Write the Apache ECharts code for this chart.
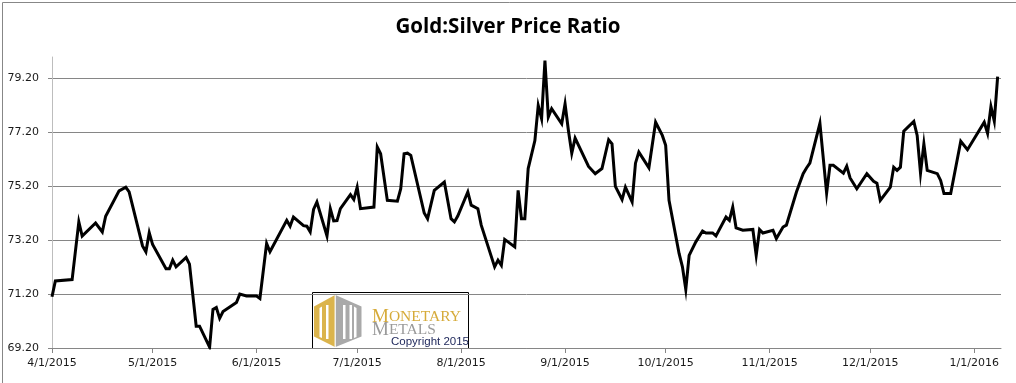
<!DOCTYPE html>
<html>
<head>
<meta charset="utf-8">
<script src="https://cdn.jsdelivr.net/npm/echarts@6/dist/echarts.min.js"></script>
<style>
html,body{margin:0;padding:0;background:#fff;}
#chart{width:1016px;height:383px;}
</style>
</head>
<body>
<div id="chart"></div>
<script>
// ---- data ----
const dates = [
 '2015-04-01','2015-04-02','2015-04-07','2015-04-09','2015-04-10','2015-04-14','2015-04-16','2015-04-17','2015-04-21','2015-04-23','2015-04-24','2015-04-28','2015-04-29','2015-04-30',
 '2015-05-01','2015-05-05','2015-05-06','2015-05-07','2015-05-08','2015-05-11','2015-05-12','2015-05-14','2015-05-15','2015-05-18','2015-05-19','2015-05-20','2015-05-21','2015-05-22','2015-05-26','2015-05-27','2015-05-29',
 '2015-06-01','2015-06-02','2015-06-04','2015-06-05','2015-06-10','2015-06-11','2015-06-12','2015-06-15','2015-06-16','2015-06-17','2015-06-18','2015-06-19','2015-06-22','2015-06-23','2015-06-24','2015-06-25','2015-06-26','2015-06-29','2015-06-30',
 '2015-07-01','2015-07-02','2015-07-06','2015-07-07','2015-07-08','2015-07-10','2015-07-13','2015-07-14','2015-07-15','2015-07-16','2015-07-17','2015-07-21','2015-07-22','2015-07-24','2015-07-27','2015-07-29','2015-07-30','2015-07-31',
 '2015-08-03','2015-08-04','2015-08-06','2015-08-07','2015-08-11','2015-08-12','2015-08-13','2015-08-14','2015-08-17','2015-08-18','2015-08-19','2015-08-20','2015-08-21','2015-08-23','2015-08-24','2015-08-25','2015-08-26','2015-08-27','2015-08-28','2015-08-31',
 '2015-09-01','2015-09-02','2015-09-03','2015-09-04','2015-09-08','2015-09-10','2015-09-12','2015-09-14','2015-09-15','2015-09-16','2015-09-18','2015-09-19','2015-09-21','2015-09-22','2015-09-23','2015-09-26','2015-09-28','2015-09-30',
 '2015-10-01','2015-10-02','2015-10-05','2015-10-06','2015-10-07','2015-10-08','2015-10-10','2015-10-12','2015-10-13','2015-10-15','2015-10-16','2015-10-19','2015-10-20','2015-10-21','2015-10-22','2015-10-24','2015-10-27','2015-10-28','2015-10-29','2015-10-30',
 '2015-11-02','2015-11-03','2015-11-05','2015-11-06','2015-11-09','2015-11-11','2015-11-12','2015-11-13','2015-11-16','2015-11-18','2015-11-19','2015-11-20','2015-11-23','2015-11-24','2015-11-25','2015-11-27','2015-11-30',
 '2015-12-02','2015-12-03','2015-12-04','2015-12-07','2015-12-08','2015-12-09','2015-12-10','2015-12-11','2015-12-14','2015-12-15','2015-12-16','2015-12-17','2015-12-18','2015-12-21','2015-12-22','2015-12-23','2015-12-25','2015-12-28','2015-12-30',
 '2016-01-04','2016-01-05','2016-01-06','2016-01-07','2016-01-08'
];
const ratio = [
 71.10,71.69,71.74,73.88,73.35,73.84,73.51,74.09,75.03,75.17,74.99,72.99,72.77,73.48,
 73.04,72.14,72.14,72.46,72.21,72.56,72.31,70.01,70.01,69.23,70.63,70.70,70.30,70.55,70.89,71.20,71.13,
 71.13,71.04,73.08,72.77,73.94,73.72,74.06,73.74,73.72,73.51,74.34,74.62,73.36,74.37,73.92,73.93,74.37,74.89,74.71,
 75.17,74.37,74.43,76.66,76.41,74.68,74.65,75.11,76.41,76.43,76.35,74.21,74.00,75.05,75.36,74.00,73.88,74.10,
 74.99,74.50,74.37,73.76,72.21,72.46,72.27,73.23,72.95,75.05,74.00,74.00,75.86,76.90,78.20,77.71,79.87,77.77,78.08,77.52,
 78.26,77.27,76.43,76.99,75.94,75.67,75.86,76.93,76.78,75.20,74.71,75.17,74.62,76.06,76.47,75.89,77.58,77.09,
 76.72,74.68,72.71,72.21,71.37,72.64,73.14,73.54,73.47,73.47,73.36,74.06,73.94,74.43,73.66,73.57,73.60,72.64,73.60,73.47,
 73.57,73.26,73.69,73.76,74.99,75.67,75.88,76.06,77.54,74.95,75.98,75.98,75.69,75.95,75.51,75.11,75.67,
 75.39,75.32,74.68,75.17,75.91,75.79,75.91,77.25,77.61,77.09,75.69,76.78,75.79,75.67,75.42,74.93,74.93,76.87,76.56,
 77.58,77.17,78.16,77.62,79.27
];
const monthTicks = ['2015-04-01','2015-05-01','2015-06-01','2015-07-01','2015-08-01','2015-09-01','2015-10-01','2015-11-01','2015-12-01','2016-01-01'];
const yTicks = [69.2, 71.2, 73.2, 75.2, 77.2, 79.2];
const xMin = '2015-04-01', xMax = '2016-01-09';
const yMin = 69.2, yMax = 80;

const toTs = s => { const p = s.split('-').map(Number); return Date.UTC(p[0], p[1]-1, p[2]); };
const seriesData = dates.map((d, i) => [toTs(d), ratio[i]]);
const tickTs = monthTicks.map(toTs);

const chart = echarts.init(document.getElementById('chart'), null, {renderer: 'canvas'});
chart.setOption({
  animation: false,
  backgroundColor: '#fff',
  title: {
    text: 'Gold:Silver Price Ratio',
    left: 'center', top: 12,
    textStyle: {fontFamily: 'Open Sans', fontWeight: 'bold', fontSize: 20.5, color: '#000'}
  },
  grid: {left: 52, right: 15, top: 57, bottom: 35},
  xAxis: {
    type: 'value',
    min: toTs(xMin), max: toTs(xMax),
    axisLine: {show: true, lineStyle: {color: '#868686', width: 1}},
    axisTick: {show: true, length: 5, lineStyle: {color: '#868686'}, customValues: tickTs},
    axisLabel: {
      customValues: tickTs,
      margin: 10,
      fontFamily: 'DejaVu Sans', fontSize: 11, color: '#1a1a1a',
      formatter: v => { const d = new Date(v); return (d.getUTCMonth()+1) + '/' + d.getUTCDate() + '/' + d.getUTCFullYear(); }
    },
    splitLine: {show: false}
  },
  yAxis: {
    type: 'value',
    min: yMin, max: yMax,
    axisLine: {show: true, lineStyle: {color: '#bdbdbd', width: 1}},
    axisTick: {show: true, length: 4, lineStyle: {color: '#868686'}, customValues: yTicks},
    axisLabel: {
      customValues: yTicks,
      margin: 13,
      fontFamily: 'DejaVu Sans', fontSize: 11, color: '#1a1a1a',
      formatter: v => Number(v).toFixed(2)
    },
    splitLine: {show: true, lineStyle: {color: '#868686', width: 1}}
  },
  series: [{
    type: 'line',
    data: seriesData,
    showSymbol: false,
    symbol: 'none',
    lineStyle: {color: '#000', width: 3, join: 'miter'},
    z: 5
  }],
  graphic: [
    {type: 'rect', left: 0, top: 0, silent: true, z: 100,
     shape: {x: 0.5, y: 0.5, width: 1015, height: 382},
     style: {fill: 'none', stroke: '#878787', lineWidth: 1}},
    {type: 'group', z: 100, children: [
      {type: 'rect', shape: {x: 312.5, y: 292.5, width: 156, height: 56},
       style: {fill: '#fff', stroke: '#000', lineWidth: 1}},
      {type: 'polygon', shape: {points: [[335,295],[314,306.5],[314,336.5],[335,347]]},
       style: {fill: '#dbb44c'}},
      {type: 'polygon', shape: {points: [[335.5,295],[361.5,306.5],[361.5,336.5],[335.5,347]]},
       style: {fill: '#a9a9a9'}},
      {type: 'rect', shape: {x: 334.6, y: 295, width: 1, height: 52}, style: {fill: '#fff'}},
      {type: 'polygon', shape: {points: [[319.5,308],[322,306.5],[322,338],[319.5,337]]}, style: {fill: '#fff'}},
      {type: 'rect', shape: {x: 326, y: 305, width: 2.5, height: 34}, style: {fill: '#fff'}},
      {type: 'rect', shape: {x: 343, y: 305, width: 2.5, height: 34}, style: {fill: '#fff'}},
      {type: 'rect', shape: {x: 349.5, y: 305, width: 2.5, height: 34}, style: {fill: '#fff'}},
      {type: 'polygon', shape: {points: [[354,306.5],[356.5,308],[356.5,337],[354,338]]}, style: {fill: '#fff'}},
      {type: 'text', x: 372, y: 317,
       style: {text: '{a|M}{b|ONETARY}', verticalAlign: 'middle',
         rich: {a: {fontFamily: 'Liberation Serif', fontSize: 19, fill: '#d6ab3a', color: '#d6ab3a'},
                b: {fontFamily: 'Liberation Serif', fontSize: 15.5, fill: '#d6ab3a', color: '#d6ab3a'}}}},
      {type: 'text', x: 372, y: 330,
       style: {text: '{a|M}{b|ETALS}', verticalAlign: 'middle',
         rich: {a: {fontFamily: 'Liberation Serif', fontSize: 19, fill: '#9a9a9a', color: '#9a9a9a'},
                b: {fontFamily: 'Liberation Serif', fontSize: 15.5, fill: '#9a9a9a', color: '#9a9a9a'}}}},
      {type: 'text', x: 391, y: 342,
       style: {text: 'Copyright 2015', verticalAlign: 'middle', fontFamily: 'Liberation Sans', fontSize: 11.5, fill: '#1c2559'}}
    ]}
  ]
});
</script>
</body>
</html>
